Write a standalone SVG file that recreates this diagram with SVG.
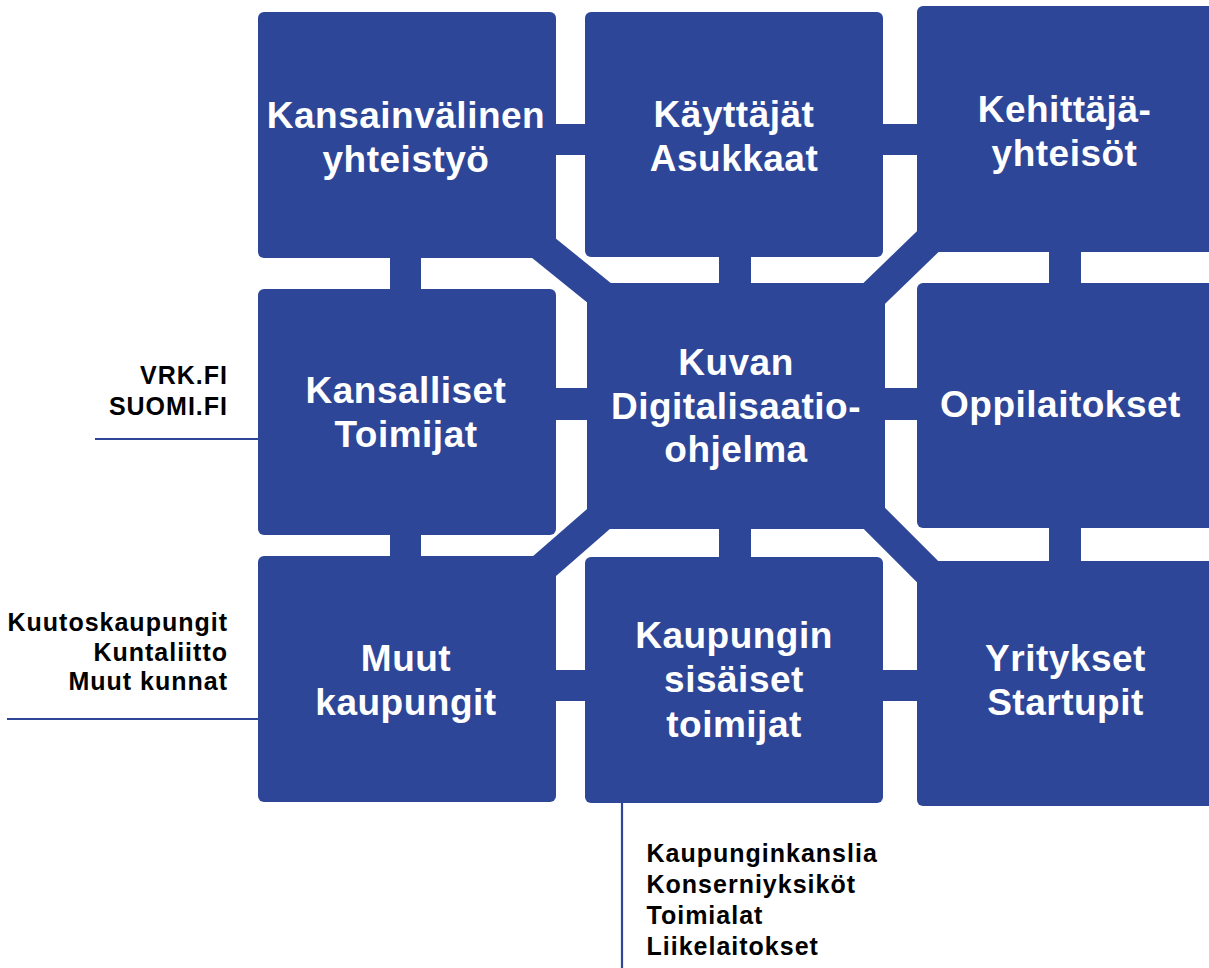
<svg xmlns="http://www.w3.org/2000/svg" width="1209" height="968" viewBox="0 0 1209 968">
  <style>
    .box { fill: #2E4697; }
    .bar { fill: #2E4697; }
    .diag { stroke: #2E4697; stroke-width: 30; stroke-linecap: butt; fill: none; }
    .lead { stroke: #2E4697; stroke-width: 2.2; fill: none; }
    .t { font-family: "Liberation Sans", Arial, sans-serif; font-weight: bold; font-size: 37px; fill: #FFFFFF; text-anchor: middle; letter-spacing: 0.5px; }
    .n { font-family: "Liberation Sans", Arial, sans-serif; font-weight: bold; font-size: 25px; fill: #000000; letter-spacing: 1px; }
    .r { text-anchor: end; }
  </style>
  <rect width="1209" height="968" fill="#FFFFFF"/>

  <!-- connectors: straight bars, diagonal bands and thin leader lines -->
  <g id="connectors">
    <rect class="bar" x="540" y="124" width="60" height="31"/>
    <rect class="bar" x="870" y="124" width="60" height="31"/>
    <rect class="bar" x="540" y="388" width="60" height="32"/>
    <rect class="bar" x="870" y="388" width="60" height="32"/>
    <rect class="bar" x="540" y="670" width="60" height="31"/>
    <rect class="bar" x="870" y="670" width="60" height="31"/>
    <rect class="bar" x="390" y="245" width="31" height="60"/>
    <rect class="bar" x="390" y="520" width="31" height="50"/>
    <rect class="bar" x="719" y="245" width="32" height="50"/>
    <rect class="bar" x="719" y="515" width="32" height="55"/>
    <rect class="bar" x="1049" y="240" width="32" height="55"/>
    <rect class="bar" x="1049" y="515" width="32" height="55"/>
    <line class="diag" x1="521" y1="229.7" x2="622" y2="311.3"/>
    <line class="diag" x1="949.3" y1="220.7" x2="852.7" y2="314.3"/>
    <line class="diag" x1="620.9" y1="499.4" x2="522.1" y2="585.6"/>
    <line class="diag" x1="853.2" y1="497.2" x2="948.8" y2="592.8"/>
    <line class="lead" x1="95" y1="439" x2="260" y2="439"/>
    <line class="lead" x1="7" y1="719" x2="260" y2="719"/>
    <line class="lead" x1="622" y1="800" x2="622" y2="968"/>
  </g>

  <g id="kansainvalinen">
    <rect class="box" x="258" y="12" width="298" height="246" rx="6"/>
    <text class="t" x="406" y="127.5">Kansainvälinen</text>
    <text class="t" x="406" y="172">yhteistyö</text>
  </g>

  <g id="kayttajat">
    <rect class="box" x="585" y="12" width="298" height="245" rx="6"/>
    <text class="t" x="734" y="127">Käyttäjät</text>
    <text class="t" x="734" y="171">Asukkaat</text>
  </g>

  <g id="kehittajat">
    <rect class="box" x="917" y="6" width="298" height="246" rx="6"/>
    <text class="t" x="1064.5" y="121.7">Kehittäjä-</text>
    <text class="t" x="1064.5" y="165.7">yhteisöt</text>
  </g>

  <g id="kansalliset">
    <rect class="box" x="258" y="289" width="298" height="246" rx="6"/>
    <text class="t" x="406" y="403">Kansalliset</text>
    <text class="t" x="406" y="447">Toimijat</text>
  </g>

  <g id="digitalisaatio">
    <rect class="box" x="587" y="283" width="298" height="246" rx="2"/>
    <text class="t" x="736" y="375">Kuvan</text>
    <text class="t" x="736" y="419">Digitalisaatio-</text>
    <text class="t" x="736" y="462">ohjelma</text>
  </g>

  <g id="oppilaitokset">
    <rect class="box" x="917" y="283" width="298" height="245" rx="6"/>
    <text class="t" x="1060.5" y="416.7">Oppilaitokset</text>
  </g>

  <g id="muut-kaupungit">
    <rect class="box" x="258" y="556" width="298" height="246" rx="6"/>
    <text class="t" x="406" y="671">Muut</text>
    <text class="t" x="406" y="715">kaupungit</text>
  </g>

  <g id="kaupungin-sisaiset">
    <rect class="box" x="585" y="557" width="298" height="246" rx="6"/>
    <text class="t" x="734" y="647.7">Kaupungin</text>
    <text class="t" x="734" y="692">sisäiset</text>
    <text class="t" x="734" y="736.7">toimijat</text>
  </g>

  <g id="yritykset">
    <rect class="box" x="917" y="561" width="298" height="245" rx="6"/>
    <text class="t" x="1065.5" y="671">Yritykset</text>
    <text class="t" x="1065.5" y="715">Startupit</text>
  </g>

  <g id="kansalliset-notes">
    <text class="n r" x="228" y="384.3">VRK.FI</text>
    <text class="n r" x="228" y="415">SUOMI.FI</text>
  </g>

  <g id="kunnat-notes">
    <text class="n r" x="228" y="630.5">Kuutoskaupungit</text>
    <text class="n r" x="228" y="660.5">Kuntaliitto</text>
    <text class="n r" x="228" y="690">Muut kunnat</text>
  </g>

  <g id="sisaiset-notes">
    <text class="n" x="646.5" y="861.7">Kaupunginkanslia</text>
    <text class="n" x="646.5" y="893.3">Konserniyksiköt</text>
    <text class="n" x="646.5" y="924.3">Toimialat</text>
    <text class="n" x="646.5" y="955">Liikelaitokset</text>
  </g>
</svg>
